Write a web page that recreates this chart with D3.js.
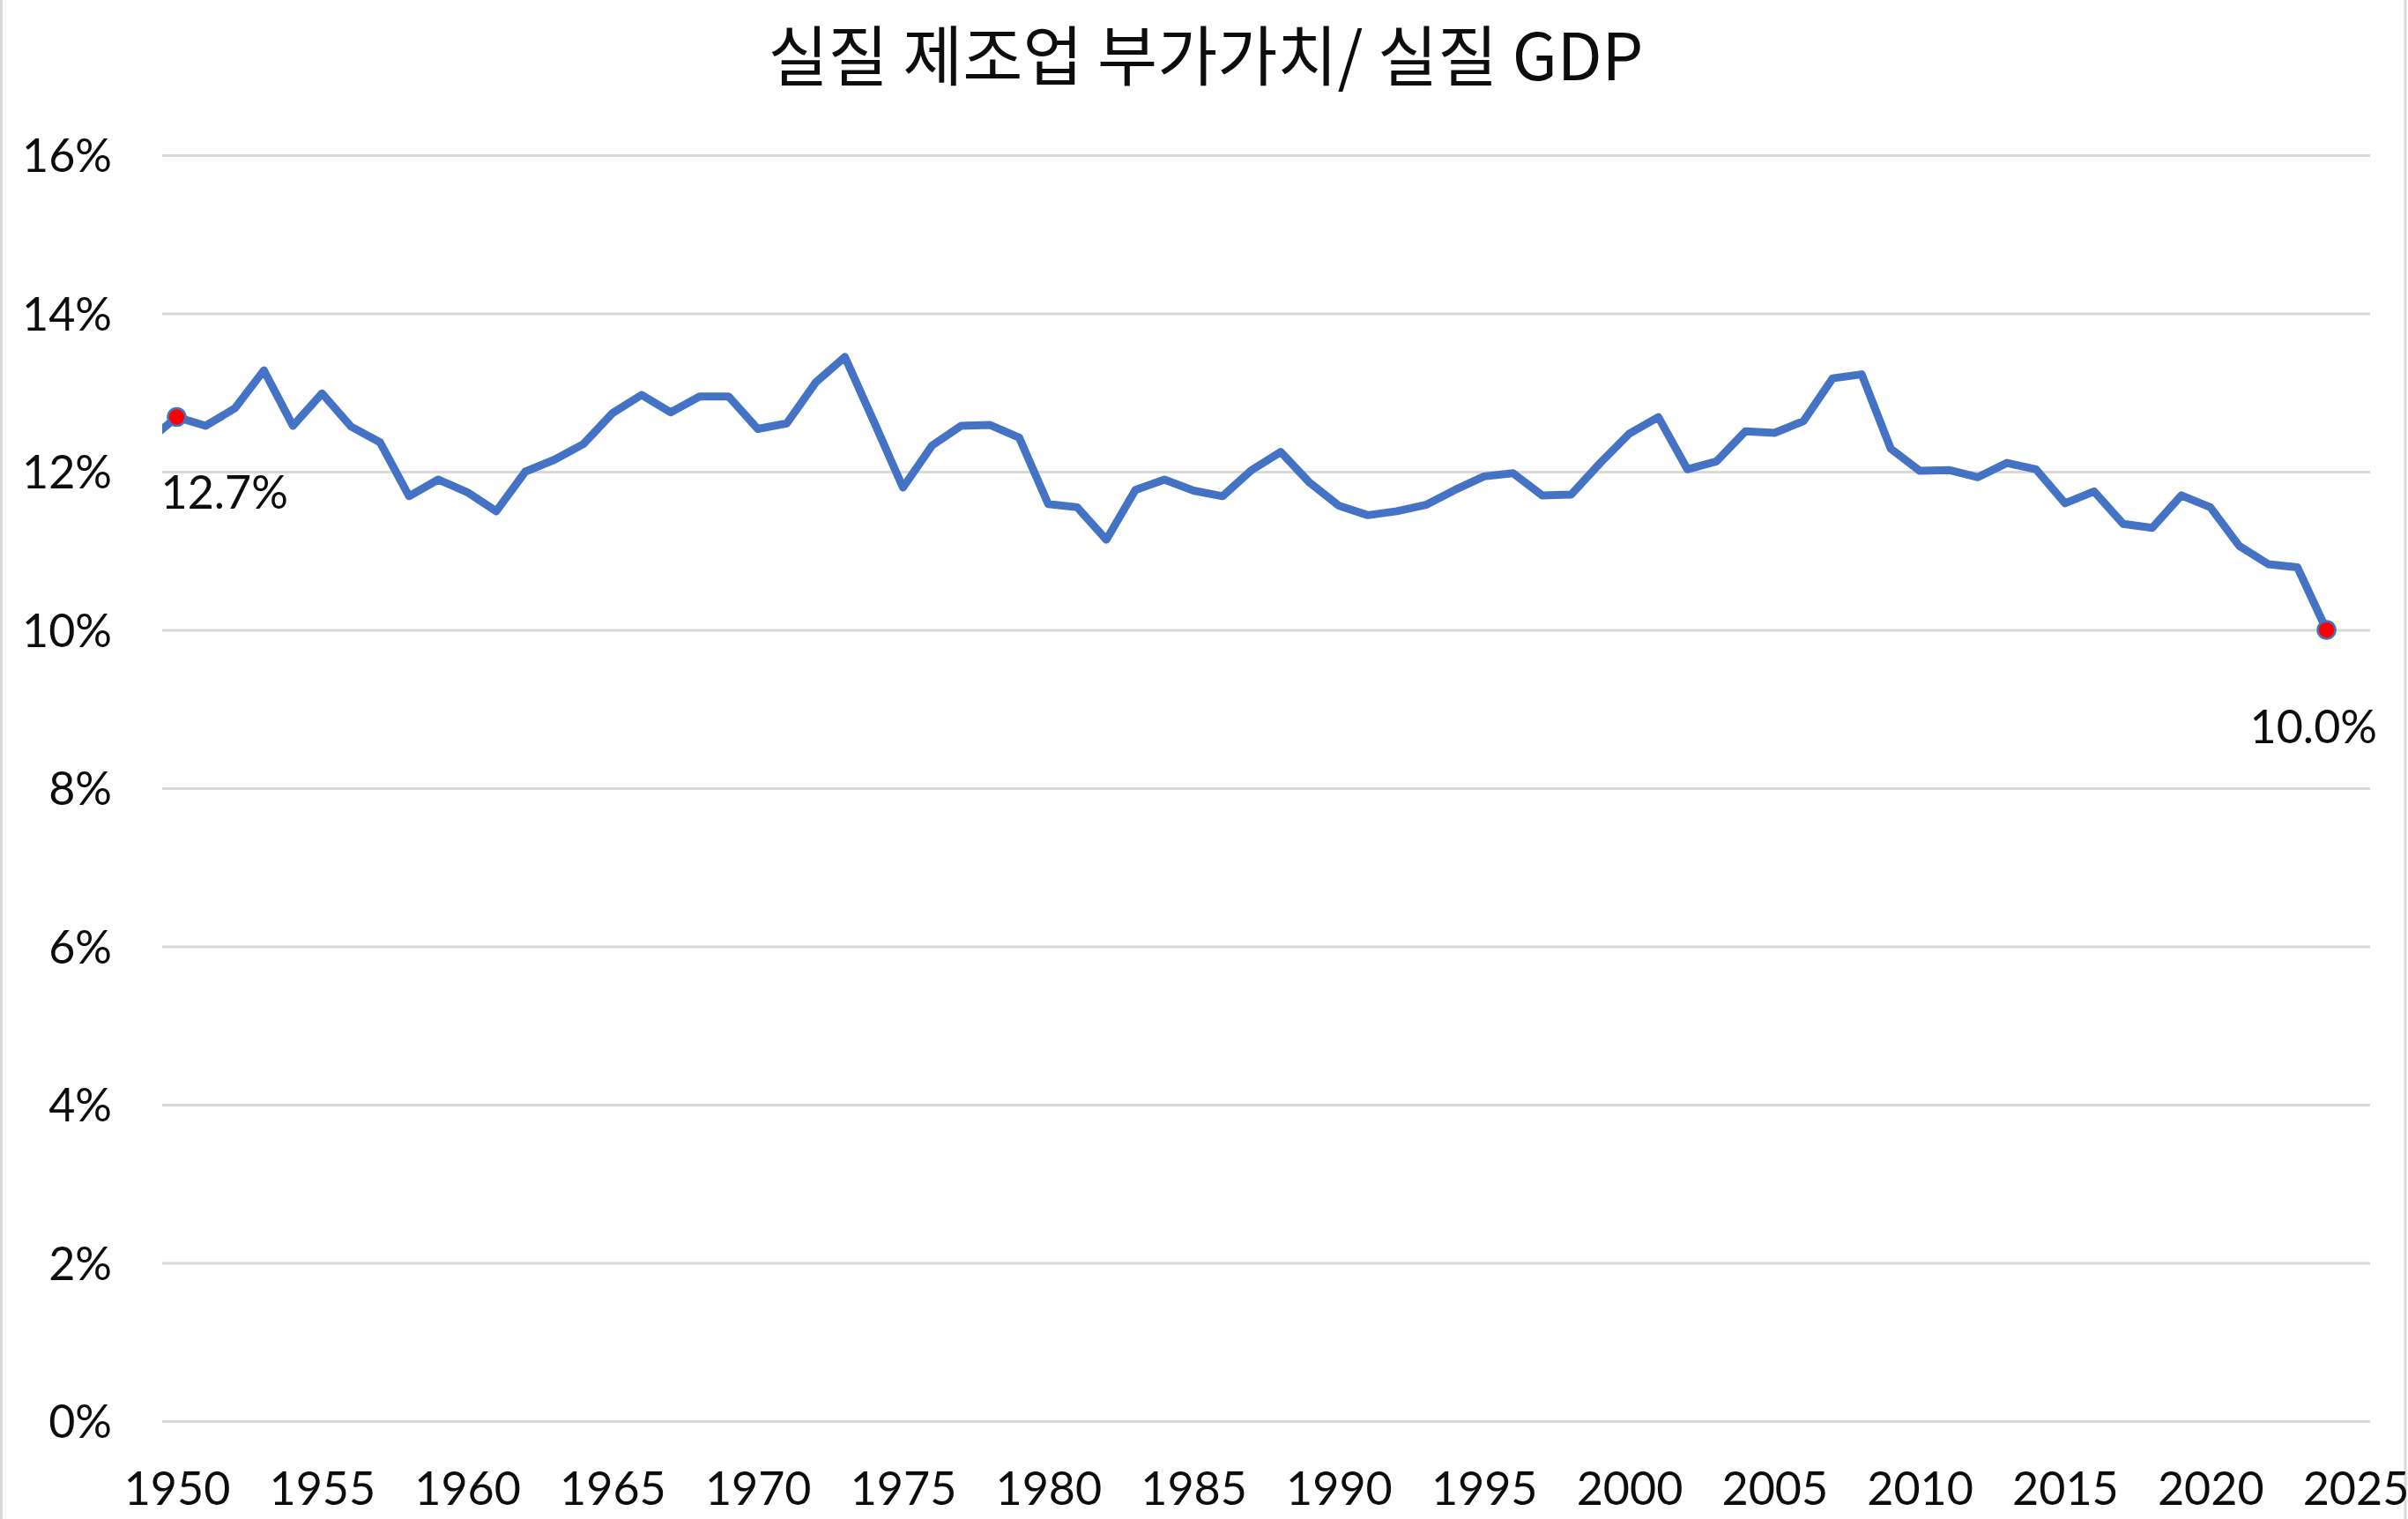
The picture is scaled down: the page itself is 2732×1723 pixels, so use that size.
<!DOCTYPE html>
<html>
<head>
<meta charset="utf-8">
<script src="https://cdn.jsdelivr.net/npm/d3@7"></script>
<style>
  html, body { margin: 0; padding: 0; background: #fff; }
  svg { display: block; }
</style>
</head>
<body>
<svg id="chart" width="2732" height="1723"></svg>
<script>
// ---------------- data ----------------
const chartTitle = "실질 제조업 부가가치/ 실질 GDP";

const years = [
  1949, 1950, 1951, 1952, 1953, 1954, 1955, 1956, 1957, 1958, 1959,
  1960, 1961, 1962, 1963, 1964, 1965, 1966, 1967, 1968, 1969,
  1970, 1971, 1972, 1973, 1974, 1975, 1976, 1977, 1978, 1979,
  1980, 1981, 1982, 1983, 1984, 1985, 1986, 1987, 1988, 1989,
  1990, 1991, 1992, 1993, 1994, 1995, 1996, 1997, 1998, 1999,
  2000, 2001, 2002, 2003, 2004, 2005, 2006, 2007, 2008, 2009,
  2010, 2011, 2012, 2013, 2014, 2015, 2016, 2017, 2018, 2019,
  2020, 2021, 2022, 2023, 2024
];

// real manufacturing value added / real GDP, in %
const shareValues = [
  12.38, 12.69, 12.58, 12.80, 13.28, 12.58, 12.99, 12.57, 12.37, 11.69, 11.90,
  11.74, 11.50, 12.00, 12.15, 12.35, 12.74, 12.97, 12.75, 12.95, 12.95,
  12.54, 12.61, 13.13, 13.45, 12.63, 11.80, 12.33, 12.58, 12.59, 12.43,
  11.59, 11.55, 11.14, 11.77, 11.90, 11.76, 11.69, 12.02, 12.25, 11.86,
  11.57, 11.45, 11.50, 11.58, 11.77, 11.94, 11.98, 11.70, 11.71, 12.11,
  12.48, 12.69, 12.03, 12.13, 12.51, 12.49, 12.64, 13.18, 13.23, 12.29,
  12.01, 12.02, 11.93, 12.11, 12.03, 11.60, 11.75, 11.34, 11.29, 11.70,
  11.55, 11.06, 10.83, 10.79, 10.00
];

const yTickValues = [0, 2, 4, 6, 8, 10, 12, 14, 16];
const xTickValues = [1950, 1955, 1960, 1965, 1970, 1975, 1980, 1985, 1990, 1995,
                     2000, 2005, 2010, 2015, 2020, 2025];

const highlightYears  = [1950, 2024];
const highlightLabels = ["12.7%", "10.0%"];

// ---------------- layout ----------------
const W = 2732, H = 1723;
const plot = { left: 184, right: 2689, top: 176, bottom: 1612 };
const LINE_COLOR = "#4472C4";
const GRID_COLOR = "#D9D9D9";
const TEXT_COLOR = "#0d0d0d";
const FONT = "Lato, 'Noto Sans', sans-serif";

const svg = d3.select("#chart");

svg.append("rect").attr("x", 0).attr("y", 0).attr("width", W).attr("height", H).attr("fill", "#fff");

const x = d3.scaleLinear().domain([1949.5, 2025.5]).range([plot.left, plot.right]);
const y = d3.scaleLinear().domain([0, 16]).range([plot.bottom, plot.top]);

// chart border (left / right edges visible)
svg.append("line").attr("x1", 1.5).attr("x2", 1.5).attr("y1", 0).attr("y2", H)
  .attr("stroke", GRID_COLOR).attr("stroke-width", 3);
svg.append("line").attr("x1", W - 3).attr("x2", W - 3).attr("y1", 0).attr("y2", H)
  .attr("stroke", GRID_COLOR).attr("stroke-width", 3);

// title
svg.append("text")
  .attr("x", 1368).attr("y", 91)
  .attr("text-anchor", "middle")
  .attr("font-family", "'Noto Sans CJK KR', 'Noto Sans', sans-serif")
  .attr("font-size", 74)
  .attr("fill", TEXT_COLOR)
  .text(chartTitle);

// gridlines + y labels
const yAxisG = svg.append("g")
  .attr("transform", `translate(${plot.left},0)`)
  .call(d3.axisLeft(y).tickValues(yTickValues)
        .tickSize(-(plot.right - plot.left))
        .tickPadding(57)
        .tickFormat(d => d + "%"));
yAxisG.select(".domain").remove();
yAxisG.selectAll(".tick line").attr("stroke", GRID_COLOR).attr("stroke-width", 3);
yAxisG.selectAll(".tick text")
  .attr("font-family", FONT).attr("font-size", 52)
  .attr("fill", TEXT_COLOR).attr("dy", "0.36em");

// x axis labels
const xAxisG = svg.append("g")
  .attr("transform", `translate(0,${plot.bottom})`)
  .call(d3.axisBottom(x).tickValues(xTickValues).tickSize(0).tickPadding(58)
        .tickFormat(d3.format("d")));
xAxisG.select(".domain").remove();
xAxisG.selectAll(".tick text")
  .attr("font-family", FONT).attr("font-size", 52)
  .attr("fill", TEXT_COLOR);

// clip to plot area
svg.append("clipPath").attr("id", "plotClip")
  .append("rect")
  .attr("x", plot.left).attr("y", plot.top - 20)
  .attr("width", plot.right - plot.left).attr("height", plot.bottom - plot.top + 40);

const data = years.map((yr, i) => ({ year: yr, value: shareValues[i] }));

const line = d3.line()
  .x(d => x(d.year))
  .y(d => y(d.value))
  .curve(d3.curveLinear);

svg.append("path")
  .datum(data)
  .attr("clip-path", "url(#plotClip)")
  .attr("fill", "none")
  .attr("stroke", LINE_COLOR)
  .attr("stroke-width", 9)
  .attr("stroke-linejoin", "round")
  .attr("stroke-linecap", "round")
  .attr("d", line);

// highlighted points
const hl = highlightYears.map((yr, i) => {
  const d = data.find(p => p.year === yr);
  return { year: yr, value: d.value, label: highlightLabels[i] };
});

svg.selectAll("circle.hl")
  .data(hl)
  .enter().append("circle")
  .attr("class", "hl")
  .attr("cx", d => x(d.year))
  .attr("cy", d => y(d.value))
  .attr("r", 10)
  .attr("fill", "#FF0000")
  .attr("stroke", LINE_COLOR)
  .attr("stroke-width", 2.5);

// data labels (placed below the points, as in the reference)
const labelOffsets = [
  { dx: -18, dy: 104 },
  { dx: -87, dy: 128 }
];
svg.selectAll("text.hl")
  .data(hl)
  .enter().append("text")
  .attr("class", "hl")
  .attr("x", (d, i) => x(d.year) + labelOffsets[i].dx)
  .attr("y", (d, i) => y(d.value) + labelOffsets[i].dy)
  .attr("font-family", FONT)
  .attr("font-size", 52)
  .attr("fill", TEXT_COLOR)
  .text(d => d.label);
</script>
</body>
</html>
